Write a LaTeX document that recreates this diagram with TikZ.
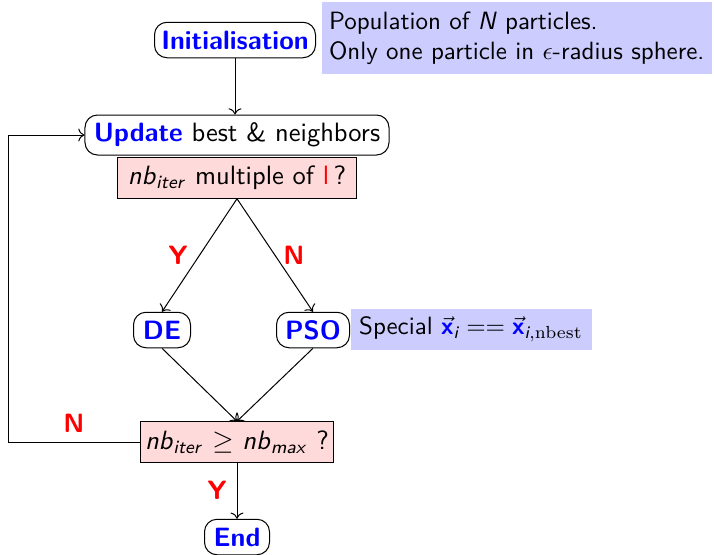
\documentclass[tikz,border=0pt]{standalone}
\usepackage{amsmath}
\usepackage{tikz}
\usetikzlibrary{arrows.meta,positioning}
\renewcommand{\familydefault}{\sfdefault}
\definecolor{notebg}{RGB}{204,204,255}
\definecolor{testbg}{RGB}{255,218,218}
\newcommand{\sfit}[1]{\textit{#1}}
\newcommand{\nbsub}[1]{\sfit{nb}\textsubscript{\sfit{#1}}}
\newcommand{\bx}{\vec{\textcolor{blue}{\textbf{x}}}}
\newcommand{\bigfont}{\fontsize{10.6}{13}\selectfont}
\tikzset{
  stepbox/.style={draw,rounded corners=5pt,minimum height=14.2pt,inner sep=2pt,font=\bigfont},
  title/.style={font=\bigfont\bfseries,text=blue},
  testbox/.style={draw,fill=testbg,minimum height=16.2pt,inner sep=2pt,font=\bigfont},
  note/.style={fill=notebg,align=left,inner sep=3pt},
  answer/.style={font=\bigfont\bfseries,text=red},
  arrow/.style={->}
}
\begin{document}
\begin{tikzpicture}[x=0.4pt,y=-0.4pt]
\useasboundingbox (0,0) rectangle (714,554);
% Init
\node[stepbox,title,minimum width=64.4pt] (init) at (235,40) {Initialisation};
\node[note,anchor=west,minimum width=153.6pt,minimum height=28.8pt] (initnote) at (321,38) {Population of \sfit{N} particles.\\Only one particle in $\epsilon$-radius sphere.};
% Update and test
\node[stepbox,minimum width=121.6pt,minimum height=16pt] (upd) at (237,135) {\textcolor{blue}{\textbf{Update}} best \& neighbors};
\node[testbox,minimum width=95.6pt] (mult) at (237,178) {\nbsub{iter} multiple of \textcolor{red}{l}\,?};
\draw[arrow] (init) -- (init|-upd.north);
% Branches
\node[stepbox,title,minimum width=22.8pt] (de) at (162,330) {DE};
\node[stepbox,title,minimum width=29.2pt] (pso) at (313,330) {PSO};
\node[note,anchor=west,minimum width=96.4pt,minimum height=16.4pt] (psonote) at (350,329) {Special $\bx_{\textit{i}} == \bx_{\textit{i},\mathrm{nbest}}$};
\draw[arrow] (mult.south) -- (de.north);
\draw[arrow] (mult.south) -- (pso.north);
\node[answer] (ylab1) at (178,255) {Y};
\node[answer] (nlab1) at (294,255) {N};
% Stop test
\node[testbox,minimum width=77.2pt] (stop) at (237,442) {\nbsub{iter} $\geq$ \nbsub{max} ?};
\draw[arrow] (de.south) -- (stop.north);
\draw[arrow] (pso.south) -- (stop.north);
\coordinate (back) at (8,442);
\draw[arrow] (stop.west) -- (back) |- (upd.west);
\node[answer] (nlab2) at (74,423) {N};
\node[stepbox,title,minimum width=26pt] (end) at (237,537) {End};
\draw[arrow] (stop.south) -- (end.north);
\node[answer] (ylab2) at (217,490) {Y};
\end{tikzpicture}
\end{document}
